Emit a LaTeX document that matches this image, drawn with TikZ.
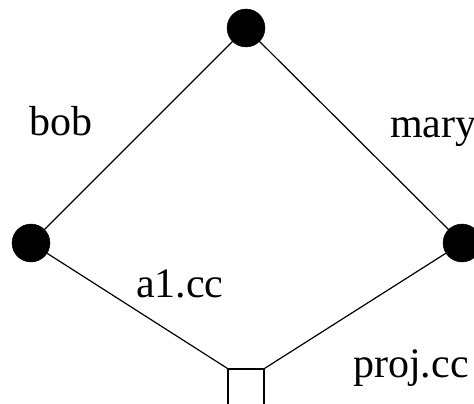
\documentclass[tikz,border=0pt]{standalone}
\usepackage{fontspec}
\setmainfont{Liberation Serif}
\begin{document}
\begin{tikzpicture}[x=1pt,y=-1pt,
  vtx/.style={circle,fill=black,draw=black,minimum size=38pt,inner sep=0pt},
  sq/.style={rectangle,draw=black,line width=1.2pt,minimum width=36pt,minimum height=36pt,inner sep=0pt},
  edge/.style={draw=black,line width=1.2pt},
  lbl/.style={anchor=base west,inner sep=0pt,font=\fontsize{42}{50}\selectfont}]
\useasboundingbox (0,0) rectangle (474,404);
\clip (0,0) rectangle (474,404);
\node[vtx] (top) at (246,28) {};
\node[vtx] (left) at (31,243) {};
\node[vtx] (right) at (462,243) {};
\node[sq] (file) at (246,387) {};
\draw[edge] (top) -- (left);
\draw[edge] (top) -- (right);
\draw[edge] (left) -- (file.north west);
\draw[edge] (right) -- (file.north east);
\node[lbl] (bob) at (29,135) {bob};
\node[lbl] (mary) at (390,137) {mary};
\node[lbl] (a1) at (136,297) {a1.cc};
\node[lbl] (proj) at (353,377) {proj.cc};
\end{tikzpicture}
\end{document}
